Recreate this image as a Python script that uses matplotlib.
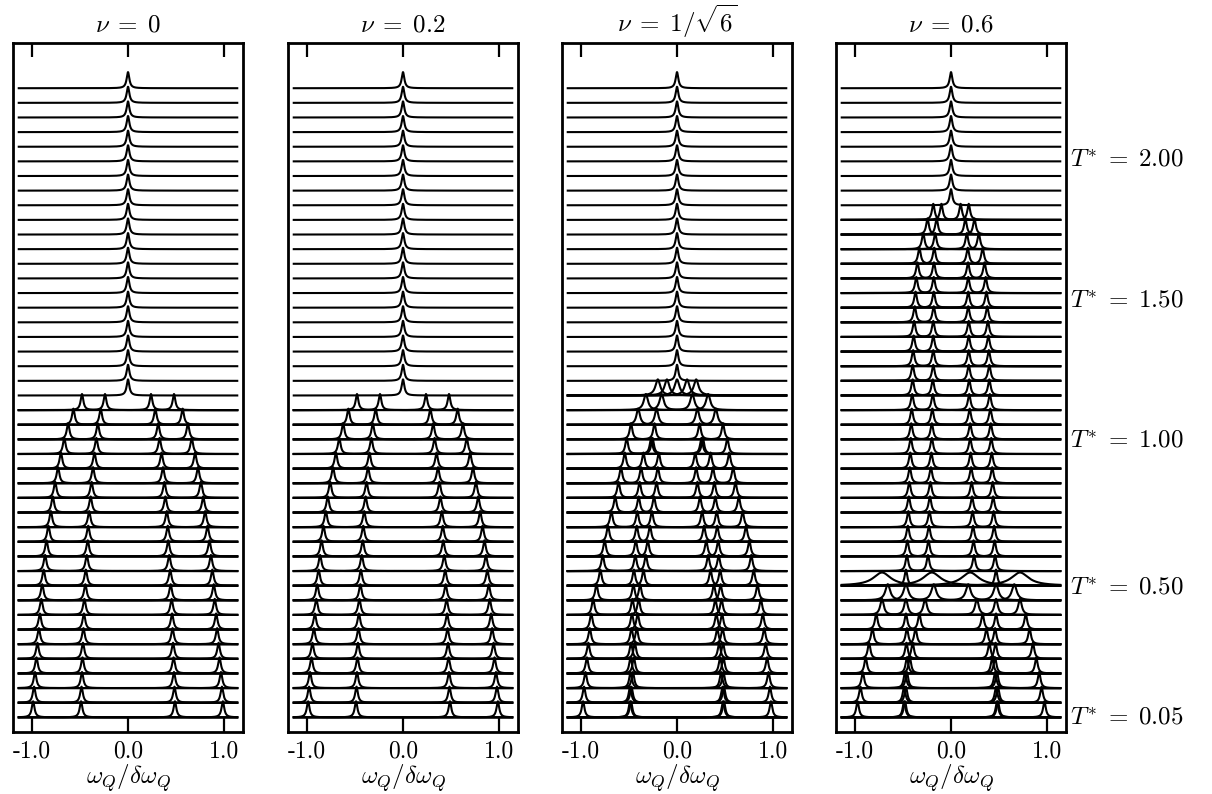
import numpy as np
import matplotlib
matplotlib.use('Agg')
import matplotlib.pyplot as plt

plt.rcParams['mathtext.fontset'] = 'cm'
plt.rcParams['axes.unicode_minus'] = False

# reduced temperature of every stacked spectrum, bottom to top
temps = [0.05, 0.10, 0.15, 0.20, 0.25, 0.30, 0.35, 0.40, 0.45, 0.50,
         0.55, 0.60, 0.65, 0.70, 0.75, 0.80, 0.85, 0.90, 0.95, 1.00,
         1.05, 1.10, 1.15, 1.20, 1.25, 1.30, 1.35, 1.40, 1.45, 1.50,
         1.55, 1.60, 1.65, 1.70, 1.75, 1.80, 1.85, 1.90, 1.95, 2.00,
         2.05, 2.10, 2.15, 2.20]
t_labels = ['2.00', '1.50', '1.00', '0.50', '0.05']

titles = [r'$\nu\;=\;0$', r'$\nu\;=\;0.2$', r'$\nu\;=\;1/\sqrt{6}$', r'$\nu\;=\;0.6$']
xticks = [-1.0, 0.0, 1.0]
xticklabels = ['-1.0', '0.0', '1.0']

# peak positions (omega_Q / delta omega_Q), positive side only, spectra mirrored
central = [[0.0]] * 22
peaks_nu0 = [
    [0.99, 0.49], [0.98, 0.485], [0.97, 0.48], [0.955, 0.475], [0.945, 0.47],
    [0.93, 0.465], [0.92, 0.46], [0.905, 0.455], [0.895, 0.445], [0.88, 0.44],
    [0.865, 0.43], [0.85, 0.42], [0.83, 0.415], [0.805, 0.405], [0.785, 0.39],
    [0.76, 0.38], [0.73, 0.365], [0.70, 0.35], [0.665, 0.33], [0.625, 0.315],
    [0.57, 0.285], [0.48, 0.24]] + central
peaks_nu02 = [
    [0.99, 0.49], [0.98, 0.485], [0.97, 0.48], [0.955, 0.475], [0.945, 0.47],
    [0.93, 0.465], [0.92, 0.46], [0.905, 0.455], [0.895, 0.445], [0.88, 0.44],
    [0.865, 0.43], [0.85, 0.42], [0.83, 0.415], [0.805, 0.405], [0.785, 0.39],
    [0.76, 0.38], [0.73, 0.365], [0.70, 0.35], [0.665, 0.33], [0.625, 0.315],
    [0.57, 0.285], [0.48, 0.24]] + central
peaks_nu41 = [
    [0.98, 0.49, 0.48], [0.97, 0.49, 0.475], [0.955, 0.485, 0.46],
    [0.94, 0.485, 0.45], [0.925, 0.48, 0.44], [0.91, 0.475, 0.42],
    [0.895, 0.47, 0.41], [0.875, 0.465, 0.40], [0.84, 0.455, 0.385],
    [0.80, 0.45, 0.35], [0.775, 0.435, 0.325], [0.755, 0.43, 0.305],
    [0.72, 0.42, 0.282], [0.685, 0.414, 0.262], [0.645, 0.40, 0.24],
    [0.61, 0.39, 0.213], [0.585, 0.375, 0.20], [0.545, 0.35, 0.19],
    [0.525, 0.27, 0.255], [0.48, 0.235], [0.405, 0.213], [0.325, 0.16],
    [0.20, 0.105, 0.0]] + [[0.0]] * 21
peaks_nu06 = [
    [0.975, 0.49, 0.48], [0.945, 0.49, 0.47], [0.92, 0.48, 0.46],
    [0.89, 0.46, 0.43], [0.855, 0.465, 0.40], [0.82, 0.46, 0.37],
    [0.78, 0.47, 0.33], [0.72, 0.47, 0.27], [0.66, 0.47, 0.18],
    [0.47],
    [0.46, 0.24], [0.455, 0.235], [0.45, 0.23], [0.445, 0.225], [0.44, 0.22],
    [0.435, 0.215], [0.43, 0.21], [0.425, 0.205], [0.42, 0.20], [0.415, 0.20],
    [0.41, 0.195], [0.405, 0.19], [0.40, 0.19], [0.40, 0.185], [0.395, 0.185],
    [0.39, 0.185], [0.385, 0.185], [0.378, 0.18], [0.37, 0.18], [0.362, 0.18],
    [0.35, 0.178], [0.33, 0.175], [0.29, 0.165], [0.245, 0.15], [0.185, 0.10]
] + [[0.0]] * 9
# broad components of the nu = 0.6 spectrum close to T* = 0.50 (row index: positions)
broad_nu06 = {9: [0.72, 0.20]}

panels = [peaks_nu0, peaks_nu02, peaks_nu41, peaks_nu06]
broad = [{}, {}, {}, broad_nu06]

# figure
fig = plt.figure(figsize=(12.12, 7.94), dpi=100)
W, H = 1212.0, 794.0
lefts = [13, 288, 562, 836]
label_rows = [38.1, 28.5, 18.9, 8.9, 0.0]
# wider lines in rows near a transition: (panel, row) -> half width
row_width = {(2, 20): 0.022, (2, 21): 0.026, (2, 22): 0.03,
             (3, 7): 0.022, (3, 8): 0.03}

x = np.linspace(-1.14, 1.14, 4001)
gamma = 0.017
height = 1.1


def lorentz(x, x0, g):
    return g**2 / ((x - x0)**2 + g**2)


axes = []
for k, rows in enumerate(panels):
    ax = fig.add_axes([lefts[k] / W, 62 / H, 230 / W, 689 / H])
    axes.append(ax)
    for i, pos in enumerate(rows):
        g = row_width.get((k, i), gamma)
        centres = sorted(set([-p for p in pos] + list(pos)))
        for c in centres:
            ax.plot(x, i + height * lorentz(x, c, g), color='k', lw=1.5)
        for p in broad[k].get(i, []):
            for c in (-p, p):
                ax.plot(x, i + 0.9 * lorentz(x, c, 0.11), color='k', lw=1.5)

    ax.set_xlim(-1.2, 1.2)
    ax.set_ylim(-1.0, 46.09)
    ax.set_yticks([])
    ax.set_xticks(xticks)
    ax.set_xticklabels(xticklabels, fontfamily='cmr10', fontsize=17)
    ax.tick_params(axis='x', direction='in', top=True, bottom=True,
                   length=10, width=1.6, pad=6)
    for sp in ax.spines.values():
        sp.set_linewidth(2.0)
    ax.set_title(titles[k], fontsize=18, pad=8)
    ax.set_xlabel(r'$\omega_Q/\delta\omega_Q$', fontsize=18, labelpad=0)

# temperature labels on the right
for lab, yr in zip(t_labels, label_rows):
    axes[-1].text(1.018, yr, r'$T^{*}\;=\;%s$' % lab,
                  transform=axes[-1].get_yaxis_transform(),
                  ha='left', va='center', fontsize=18)

fig.savefig('out.png', dpi=100)
